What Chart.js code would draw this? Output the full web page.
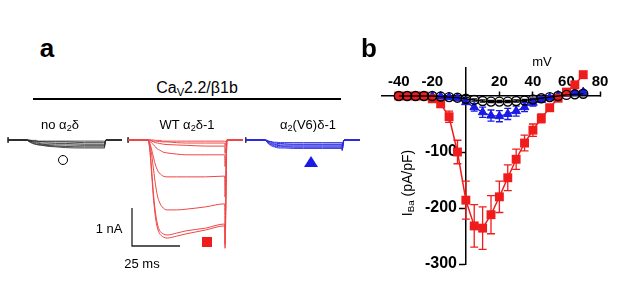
<!DOCTYPE html>
<html>
<head>
<meta charset="utf-8">
<script src="https://cdn.jsdelivr.net/npm/chart.js@4.4.0/dist/chart.umd.min.js"></script>
<style>
  body { margin: 0; width: 617px; height: 297px; background: #fff; position: relative; overflow: hidden;
         font-family: "Liberation Sans", Arial, sans-serif; color: #000; }
  canvas { position: absolute; }
  .t { position: absolute; transform: translate(-50%, -50%); white-space: nowrap; line-height: 1; }
  .t sub { font-size: 70%; vertical-align: -0.25em; line-height: 0; }
  #traces { left: 0; top: 120px; }
  #iv { left: 340px; top: 30px; }
  .rule { position: absolute; left: 33px; top: 98px; width: 308px; height: 2px; background: #000; }
  .sym-circle { position: absolute; left: 58px; top: 155px; width: 8px; height: 8px; border: 1.5px solid #000; border-radius: 50%; }
  .sym-square { position: absolute; left: 202px; top: 237px; width: 10px; height: 10px; background: #f01c1c; }
  .sym-tri { position: absolute; left: 304px; top: 156px; width: 0; height: 0;
             border-left: 7px solid transparent; border-right: 7px solid transparent; border-bottom: 11px solid #1a1ae6; }
</style>
</head>
<body>
<canvas id="traces" width="370" height="140"></canvas>
<canvas id="iv" width="277" height="267"></canvas>

<div class="t" style="left:47px;top:48px;font-size:26px;font-weight:bold">a</div>
<div class="t" style="left:369px;top:48px;font-size:26px;font-weight:bold">b</div>
<div class="t" style="left:197px;top:88px;font-size:16px">Ca<sub>V</sub>2.2/β1b</div>
<div class="rule"></div>
<div class="t" style="left:60px;top:124px;font-size:13px">no α<sub>2</sub>δ</div>
<div class="t" style="left:187px;top:124px;font-size:13px">WT α<sub>2</sub>δ-1</div>
<div class="t" style="left:308px;top:124px;font-size:13px">α<sub>2</sub>(V6)δ-1</div>
<div class="t" style="left:109px;top:228px;font-size:13px">1 nA</div>
<div class="t" style="left:142px;top:263px;font-size:13px">25 ms</div>
<div class="t" style="left:542px;top:61px;font-size:13px">mV</div>
<div class="t" style="left:407px;top:183px;font-size:14px;transform:translate(-50%,-50%) rotate(-90deg)">I<sub>Ba</sub> (pA/pF)</div>
<div class="sym-circle"></div>
<div class="sym-square"></div>
<div class="sym-tri"></div>

<script>
// ---------- Panel b: I-V relationship ----------
const mV = [-40, -35, -30, -25, -20, -15, -10, -5, 0, 5, 10, 15, 20, 25, 30, 35, 40, 45, 50, 55, 60, 65, 70];
const noA2dIBa = [0, 0, 0, 0, 0, -1, -2, -3, -5, -7, -9, -10, -10, -10, -9, -8, -6, -4, -2, 0, 2, 3, 4];
const noA2dErr = [0, 0, 0, 0, 0, 1, 1, 1, 2, 2, 2, 2, 2, 2, 2, 2, 2, 2, 1, 1, 1, 1, 1];
const v6IBa = [0, 0, 0, 0, 0, -1, -2, -4, -11, -20, -29, -35, -36, -32, -27, -20, -12, -7, -3, 1, 4, 6, 7];
const v6Err = [0, 0, 0, 0, 0, 0, 1, 2, 4, 7, 9, 10, 10, 10, 9, 8, 6, 4, 3, 2, 2, 2, 2];
const wtIBa = [0, 0, 0, 0, -5, -14, -37, -100, -186, -232, -236, -212, -180, -146, -113, -84, -61, -40, -21, -4, 7, 20, 38];
const wtErr = [0, 0, 0, 0, 2, 5, 10, 21, 34, 38, 38, 34, 28, 23, 18, 14, 11, 8, 6, 4, 4, 5, 6];
const xTicks = [-40, -20, 20, 40, 60, 80];
const yTicks = [-300, -200, -100];

// ---------- Panel a: current traces (nA), sampled at stepTimes (ms after step onset) ----------
const stepTimes = [0, 1, 2, 3, 4, 5, 6, 8, 10, 15, 20, 30, 40];
const noA2dTraces = [
  [0, 0, -0.01, -0.01, -0.01, -0.01, -0.03, -0.03, -0.03, -0.03, -0.03, -0.03, -0.03],
  [0, -0.01, -0.01, -0.03, -0.03, -0.04, -0.04, -0.04, -0.05, -0.05, -0.05, -0.07, -0.07],
  [0, -0.01, -0.03, -0.04, -0.05, -0.05, -0.07, -0.08, -0.08, -0.09, -0.09, -0.11, -0.11],
  [0, -0.03, -0.04, -0.05, -0.07, -0.08, -0.09, -0.11, -0.12, -0.13, -0.13, -0.14, -0.14],
  [0, -0.03, -0.05, -0.08, -0.09, -0.11, -0.12, -0.13, -0.14, -0.16, -0.17, -0.18, -0.18],
  [0, -0.04, -0.07, -0.09, -0.11, -0.12, -0.13, -0.14, -0.16, -0.18, -0.20, -0.21, -0.21]
];
const noA2dTails = [-0.04, -0.08, -0.12, -0.16, -0.19, -0.22];
const wtTraces = [
  [0, 0, 0, 0, -0.01, -0.01, -0.01, -0.03, -0.03, -0.03, -0.03, -0.03, -0.03],
  [0, 0, -0.01, -0.03, -0.03, -0.04, -0.04, -0.05, -0.05, -0.07, -0.08, -0.08, -0.08],
  [0, -0.01, -0.03, -0.05, -0.07, -0.08, -0.09, -0.11, -0.12, -0.13, -0.14, -0.16, -0.16],
  [0, -0.03, -0.08, -0.13, -0.18, -0.24, -0.26, -0.32, -0.34, -0.37, -0.39, -0.39, -0.39],
  [0, -0.08, -0.26, -0.47, -0.66, -0.79, -0.87, -0.95, -0.97, -0.97, -0.97, -0.97, -0.95],
  [0, -0.11, -0.39, -0.79, -1.18, -1.47, -1.63, -1.79, -1.84, -1.84, -1.82, -1.76, -1.68],
  [0, -0.21, -0.79, -1.45, -1.92, -2.21, -2.37, -2.47, -2.50, -2.45, -2.39, -2.32, -2.21],
  [0, -0.26, -0.92, -1.58, -2.05, -2.32, -2.45, -2.55, -2.58, -2.53, -2.47, -2.37, -2.26]
];
const wtTails = [-0.05, -0.15, -0.35, -0.7, -1.5, -2.3, -2.75, -2.85];
const v6Traces = [
  [0, -0.01, -0.03, -0.04, -0.05, -0.06, -0.06, -0.07, -0.07, -0.07, -0.07, -0.07, -0.07],
  [0, -0.01, -0.04, -0.05, -0.07, -0.08, -0.09, -0.09, -0.10, -0.11, -0.11, -0.11, -0.11],
  [0, -0.03, -0.05, -0.08, -0.09, -0.11, -0.12, -0.13, -0.13, -0.13, -0.13, -0.13, -0.13],
  [0, -0.03, -0.07, -0.09, -0.12, -0.13, -0.14, -0.15, -0.16, -0.16, -0.16, -0.16, -0.16],
  [0, -0.04, -0.09, -0.12, -0.14, -0.16, -0.17, -0.18, -0.18, -0.19, -0.19, -0.19, -0.19],
  [0, -0.05, -0.11, -0.14, -0.17, -0.18, -0.20, -0.21, -0.21, -0.22, -0.22, -0.22, -0.22]
];
const v6Tails = [-0.10, -0.14, -0.18, -0.22, -0.25, -0.28];
const scaleBarMs = 25;
const scaleBarNA = 1;

// layout of the three recordings along the time axis (ms)
const groups = {
  noA2d: { hold: 4.2, on: 14, off: 54, end: 63.5, color: "rgba(40,40,40,0.85)" },
  wt:    { hold: 66.7, on: 77, off: 117, end: 126.5, color: "rgb(238,70,70)" },
  v6:    { hold: 128, on: 138, off: 178, end: 187.5, color: "rgb(40,40,225)" }
};
const barOrigin = { x: 68.75, y: -1.79 };

function traceSets(g, traces, tails) {
  return traces.map((vals, k) => ({
    data: [{ x: g.hold, y: 0 }]
      .concat(stepTimes.map((t, i) => ({ x: g.on + t, y: vals[i] })))
      .concat([{ x: g.off + 0.2, y: tails[k] }, { x: g.off + 1.2, y: 0 }, { x: g.end, y: 0 }]),
    borderColor: g.color,
    borderWidth: 1,
    pointRadius: 0,
    cubicInterpolationMode: "monotone",
    clip: false
  }));
}

const tickMarks = [];
Object.values(groups).forEach(g => {
  tickMarks.push({ x: g.hold, y: 0.07 }, { x: g.hold, y: -0.07 }, { x: g.hold, y: null });
});

new Chart(document.getElementById("traces"), {
  type: "line",
  data: {
    datasets: [
      ...traceSets(groups.noA2d, noA2dTraces, noA2dTails),
      ...traceSets(groups.wt, wtTraces, wtTails),
      ...traceSets(groups.v6, v6Traces, v6Tails),
      {
        data: tickMarks, borderColor: "#333", borderWidth: 1, pointRadius: 0, spanGaps: false, clip: false
      },
      {
        data: [
          { x: barOrigin.x, y: barOrigin.y },
          { x: barOrigin.x, y: barOrigin.y - scaleBarNA },
          { x: barOrigin.x + scaleBarMs, y: barOrigin.y - scaleBarNA }
        ],
        borderColor: "#222", borderWidth: 1.3, pointRadius: 0, clip: false
      }
    ]
  },
  options: {
    responsive: false,
    animation: false,
    devicePixelRatio: 1,
    layout: { padding: 0 },
    plugins: { legend: { display: false }, tooltip: { enabled: false } },
    scales: {
      x: { type: "linear", min: 0, max: 370 / 1.92, display: false },
      y: { type: "linear", min: -120 / 38, max: 20 / 38, display: false }
    }
  }
});

// ---------- error bars for the I-V plot ----------
const errorBars = {
  id: "errorBars",
  beforeDatasetsDraw(chart) {
    const { ctx, scales: { x, y } } = chart;
    chart.data.datasets.forEach(ds => {
      if (!ds.errors) return;
      ctx.save();
      ctx.strokeStyle = ds.borderColor;
      ctx.lineWidth = 1.3;
      ds.data.forEach((p, i) => {
        const e = ds.errors[i];
        if (!e) return;
        const px = x.getPixelForValue(p.x);
        const top = y.getPixelForValue(p.y + e);
        const bot = y.getPixelForValue(p.y - e);
        const w = ds.capHalf;
        ctx.beginPath();
        ctx.moveTo(px, top); ctx.lineTo(px, bot);
        ctx.moveTo(px - w, top); ctx.lineTo(px + w, top);
        ctx.moveTo(px - w, bot); ctx.lineTo(px + w, bot);
        ctx.stroke();
      });
      ctx.restore();
    });
  }
};

const toXY = vals => mV.map((v, i) => ({ x: v, y: vals[i] }));

// dataset 0 is drawn on top: open circles, then red squares, then blue triangles
new Chart(document.getElementById("iv"), {
  type: "line",
  data: {
    datasets: [
      {
        label: "no α2δ", data: toXY(noA2dIBa), errors: noA2dErr, capHalf: 3,
        borderColor: "#000", borderWidth: 1.3,
        pointStyle: "circle", pointRadius: 4.5, pointBorderWidth: 1.4,
        pointBorderColor: "#000", pointBackgroundColor: "rgba(0,0,0,0)", clip: false
      },
      {
        label: "WT α2δ-1", data: toXY(wtIBa), errors: wtErr, capHalf: 4,
        borderColor: "#f01c1c", borderWidth: 1.5,
        pointStyle: "rect", pointRadius: 6.3, pointBorderWidth: 0,
        pointBorderColor: "#f01c1c", pointBackgroundColor: "#f01c1c", clip: false
      },
      {
        label: "α2(V6)δ-1", data: toXY(v6IBa), errors: v6Err, capHalf: 3.5,
        borderColor: "#1a1ae6", borderWidth: 1.3,
        pointStyle: "triangle", pointRadius: 5, pointBorderWidth: 1,
        pointBorderColor: "#1a1ae6", pointBackgroundColor: "#1a1ae6", clip: false
      }
    ]
  },
  options: {
    responsive: false,
    animation: false,
    devicePixelRatio: 1,
    layout: { padding: { left: 42, right: 17, top: 38, bottom: 33 } },
    plugins: { legend: { display: false }, tooltip: { enabled: false } },
    scales: {
      x: {
        type: "linear", min: -50, max: 80,
        position: { y: 0 },
        afterBuildTicks: s => { s.ticks = xTicks.map(v => ({ value: v })); },
        ticks: { color: "#000", padding: -18, font: { size: 15, weight: "bold" } },
        grid: { drawOnChartArea: false, tickLength: -5, tickWidth: 1.5, tickColor: "#000" },
        border: { color: "#000", width: 1.5 }
      },
      y: {
        type: "linear", min: -300, max: 50,
        position: { x: 0 },
        afterBuildTicks: s => { s.ticks = yTicks.map(v => ({ value: v })); },
        // labels of a value-positioned axis sit on the axis line; trailing spaces give the gap
        ticks: { color: "#000", font: { size: 16, weight: "bold" }, callback: v => v + "  " },
        grid: { drawOnChartArea: false, tickLength: 6, tickWidth: 1.5, tickColor: "#000" },
        border: { color: "#000", width: 1.5 }
      }
    }
  },
  plugins: [errorBars]
});
</script>
</body>
</html>
